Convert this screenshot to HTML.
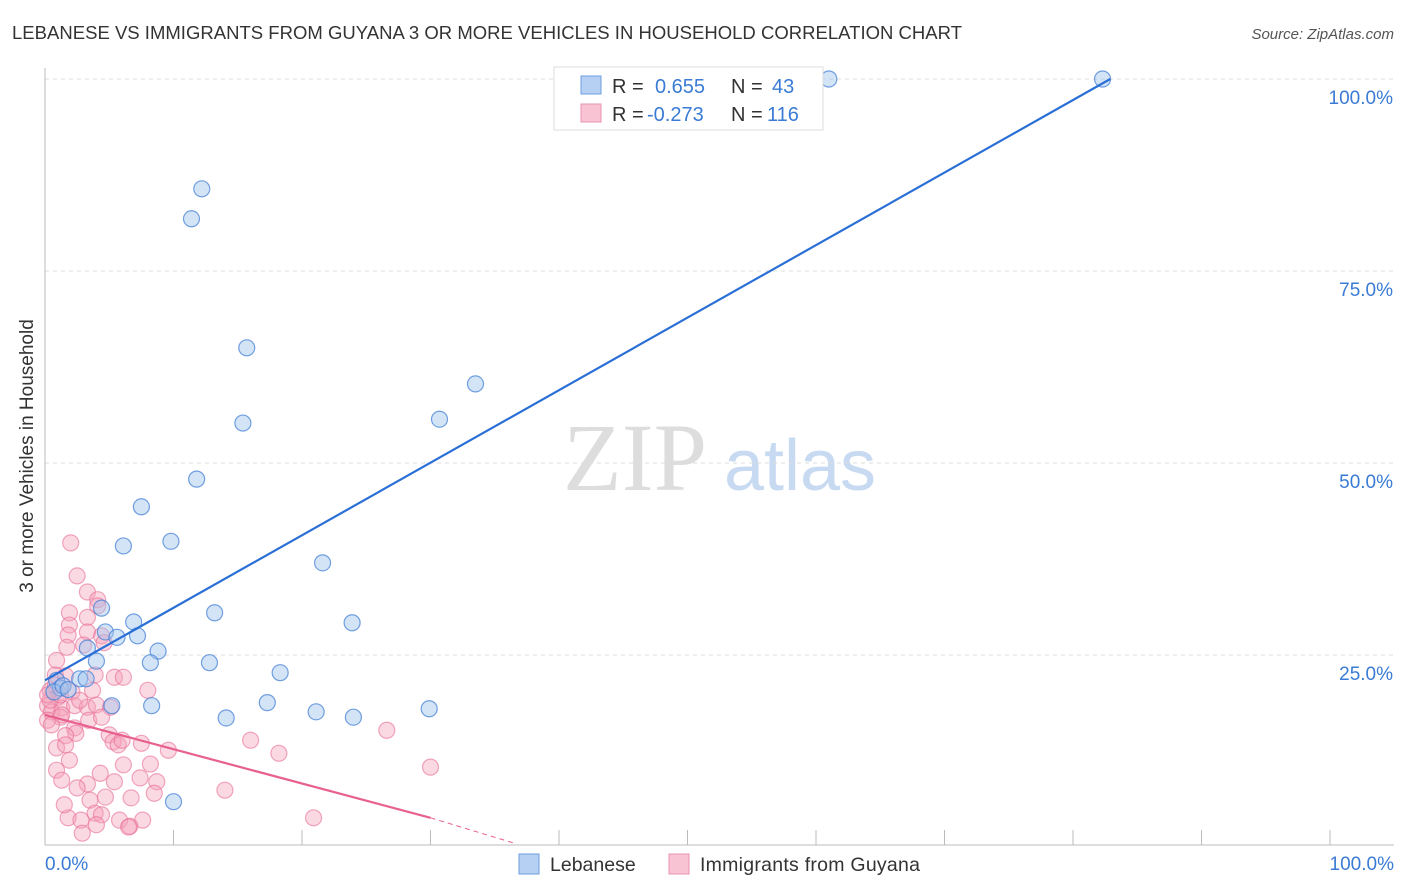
<!DOCTYPE html>
<html><head><meta charset="utf-8"><style>
body{margin:0;background:#fff;font-family:"Liberation Sans",sans-serif;}
svg{display:block}
</style></head><body>
<svg id="chart" width="1406" height="892" viewBox="0 0 1406 892">
<text x="12" y="39" font-size="18.5" fill="#333" textLength="950">LEBANESE VS IMMIGRANTS FROM GUYANA 3 OR MORE VEHICLES IN HOUSEHOLD CORRELATION CHART</text>
<text x="1394" y="39" font-size="15" fill="#555" font-style="italic" text-anchor="end">Source: ZipAtlas.com</text>
<text x="33" y="456" font-size="19" fill="#333" text-anchor="middle" transform="rotate(-90 33 456)">3 or more Vehicles in Household</text>
<g><text x="635" y="490" font-size="96" font-family="Liberation Serif,serif" fill="#ddd" text-anchor="middle">ZIP</text><text x="800" y="490" font-size="72" fill="#c8daf2" text-anchor="middle">atlas</text></g>
<g id="grid"></g><g id="marks"></g><g id="lines"></g>
<g>
<rect x="554" y="67" width="269" height="63" fill="#fff" stroke="#ddd"/>
<rect x="581" y="76" width="20" height="18" fill="#b5d0f2" stroke="#6d9ee0"/>
<rect x="581" y="104" width="20" height="18" fill="#f8c3d3" stroke="#e993b0"/>
<text x="612" y="93" font-size="20" fill="#333">R =</text><text x="655" y="93" font-size="20" fill="#3a7bd5">0.655</text><text x="731" y="93" font-size="20" fill="#333">N =</text><text x="772" y="93" font-size="20" fill="#3a7bd5">43</text>
<text x="612" y="121" font-size="20" fill="#333">R =</text><text x="647" y="121" font-size="20" fill="#3a7bd5">-0.273</text><text x="731" y="121" font-size="20" fill="#333">N =</text><text x="767" y="121" font-size="20" fill="#3a7bd5">116</text>
</g>
<g>
<rect x="519" y="854" width="20" height="20" fill="#b5d0f2" stroke="#6d9ee0"/><text x="550" y="871" font-size="19.5" fill="#333">Lebanese</text>
<rect x="669" y="854" width="20" height="20" fill="#f8c3d3" stroke="#e993b0"/><text x="700" y="871" font-size="19.5" fill="#333" textLength="220">Immigrants from Guyana</text>
</g>
<text x="45" y="870" font-size="19" fill="#3a7bd5">0.0%</text>
<text x="1394" y="870" font-size="19" fill="#3a7bd5" text-anchor="end">100.0%</text>
</svg>
<script>
const yTicks=[100,75,50,25];
const yTickLabels=["100.0%","75.0%","50.0%","25.0%"];
const blueX=[61.0,82.3,12.2,11.4,15.7,33.5,30.7,15.4,11.8,7.5,9.8,6.1,21.6,4.4,13.2,23.9,6.9,4.7,7.2,5.6,3.3,8.8,4.0,8.2,12.8,18.3,0.9,2.7,1.2,0.7,5.2,8.3,17.3,29.9,14.1,21.1,24.0,10.0,1.4,1.8,3.2];
const blueY=[100,100,85.7,81.8,65.0,60.3,55.7,55.2,47.9,44.3,39.8,39.2,37.0,31.1,30.5,29.2,29.3,28.0,27.5,27.3,25.9,25.5,24.2,24.0,24.0,22.7,21.7,21.9,20.7,20.2,18.4,18.4,18.8,18.0,16.8,17.6,16.9,5.9,21.0,20.5,21.9];
const pinkPx=[[71,543],[77,576],[87,592],[98,600],[70,613],[98,606],[88,617],[70,625],[68,635],[102,636],[88,632],[67,647],[84,645],[104,643],[55,675],[65,676],[95,675],[115,677],[123,677],[148,690],[50,690],[58,697],[72,692],[62,708],[75,706],[87,707],[97,705],[111,707],[48,706],[52,712],[60,717],[89,720],[101,717],[48,720],[74,728],[76,733],[65,736],[109,735],[113,742],[118,745],[141,743],[57,748],[122,740],[168,750],[251,740],[279,753],[387,730],[70,760],[100,773],[124,765],[151,764],[57,770],[88,784],[115,782],[140,778],[157,782],[62,780],[90,800],[105,797],[131,798],[154,793],[225,790],[95,813],[102,815],[68,818],[81,820],[120,820],[143,820],[130,826],[128,827],[97,825],[82,833],[313,818],[430,767],[77,788],[64,805],[50,700],[55,685],[60,695],[52,725],[66,745],[80,700],[93,690],[57,660],[62,715],[48,695]];
const pinkX=pinkPx.map(p=>+((p[0]-45)/12.85).toFixed(1));
const pinkY=pinkPx.map(p=>+((847-p[1])/7.68).toFixed(1));
const blueLine=[[0,21.7],[82.9,100]];
const pinkLine=[[0,17.2],[30,3.8],[36.7,0.4]];
const X=v=>45+v*12.85, Y=v=>847-v*7.68;
const ns="http://www.w3.org/2000/svg";
function mk(t,a,p){const e=document.createElementNS(ns,t);for(const k in a)e.setAttribute(k,a[k]);p.appendChild(e);return e;}
const g=document.getElementById('grid');
yTicks.forEach((t,i)=>{const l=mk('line',{x1:45,x2:1394,y1:Y(t),y2:Y(t),stroke:'#ddd','stroke-dasharray':'4 4'},g);


const tx=mk('text',{x:1393,y:Y(t)+25,'font-size':19,fill:'#3a7bd5','text-anchor':'end'},g);tx.textContent=yTickLabels[i];

});
mk('line',{x1:45,x2:45,y1:68,y2:845,stroke:'#bbb'},g);
mk('line',{x1:45,x2:1394,y1:845,y2:845,stroke:'#bbb'},g);
for(let i=1;i<=10;i++){const t=mk('line',{x1:X(i*10),x2:X(i*10),y1:830,y2:845,stroke:'#bbb'},g);

}
const m=document.getElementById('marks');
pinkX.forEach((x,i)=>{const c=mk('circle',{cx:X(x),cy:Y(pinkY[i]),r:8,fill:'rgba(244,160,186,0.4)',stroke:'rgba(232,110,150,0.6)','stroke-width':1.2},m);

});
blueX.forEach((x,i)=>{const c=mk('circle',{cx:X(x),cy:Y(blueY[i]),r:8,fill:'rgba(160,195,238,0.45)',stroke:'rgba(70,130,215,0.75)','stroke-width':1.2},m);

});
const L=document.getElementById('lines');
const b=mk('line',{x1:X(blueLine[0][0]),y1:Y(blueLine[0][1]),x2:X(blueLine[1][0]),y2:Y(blueLine[1][1]),stroke:'#2a6fd6','stroke-width':2.2},L);


const p=mk('line',{x1:X(pinkLine[0][0]),y1:Y(pinkLine[0][1]),x2:X(pinkLine[1][0]),y2:Y(pinkLine[1][1]),stroke:'#e8608f','stroke-width':2.2},L);


const pd=mk('line',{x1:X(pinkLine[1][0]),y1:Y(pinkLine[1][1]),x2:X(pinkLine[2][0]),y2:Y(pinkLine[2][1]),stroke:'#e8608f','stroke-width':1,'stroke-dasharray':'5 4'},L);


</script>
</body></html>
